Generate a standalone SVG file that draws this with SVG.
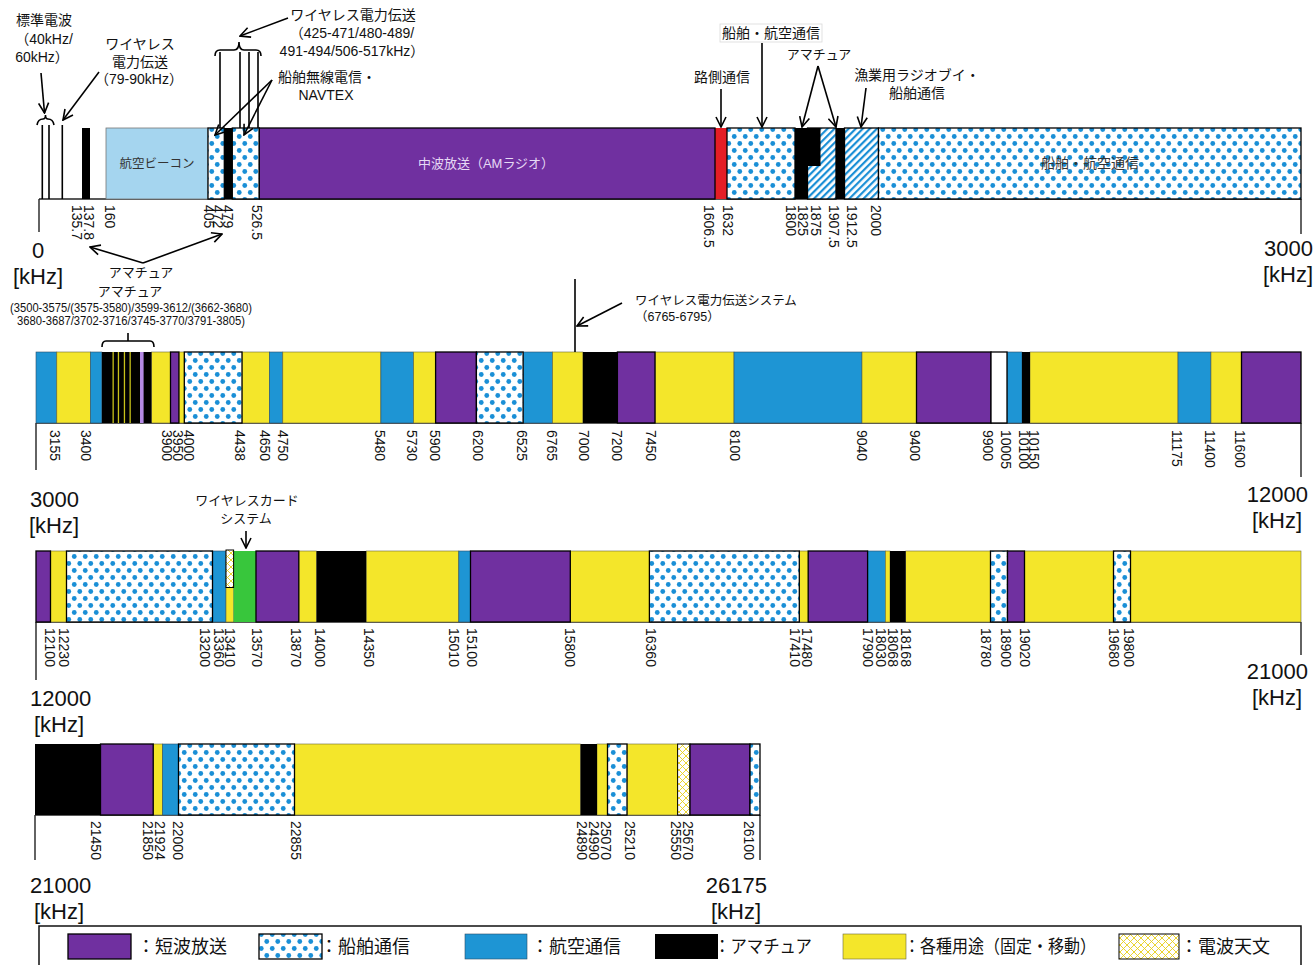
<svg xmlns="http://www.w3.org/2000/svg" width="1315" height="965" viewBox="0 0 1315 965">
<defs>
<style>
.Y{fill:#f4e62a;stroke:#6b6a3a;stroke-width:.6}
.B{fill:#1e95d4;stroke:#2b4d66;stroke-width:.6}
.G{fill:#38c63c}
.R{fill:#e41e26}
.P{fill:#7030a0;stroke:#000;stroke-width:1.3}
.D{fill:url(#dots);stroke:#000;stroke-width:1.3}
.K{fill:#000}
.W{fill:#fff;stroke:#000;stroke-width:1.3}
.X{fill:url(#xh);stroke:#000;stroke-width:1}
.H{fill:url(#hatch);stroke:#000;stroke-width:1.3}
.ax{stroke:#222;stroke-width:1.4;fill:none}
.ln{stroke:#000;stroke-width:1.6;fill:none}
.ar{stroke:#000;stroke-width:1.6;fill:none;marker-end:url(#ah)}
.lb{font-family:"Liberation Sans",Arial,sans-serif;font-size:14px;fill:#111}
.jp{font-family:"Liberation Sans","Noto Sans CJK JP",sans-serif;font-size:14px;fill:#111}
.big{font-family:"Liberation Sans",Arial,sans-serif;font-size:22px;fill:#111}
.lg{font-family:"Liberation Sans","Noto Sans CJK JP",sans-serif;font-size:18px;fill:#111}
</style>
<pattern id="dots" patternUnits="userSpaceOnUse" width="11" height="14"><rect width="11" height="14" fill="#fff"/><circle cx="2.75" cy="3.5" r="2.4" fill="#1a8fd6"/><circle cx="8.25" cy="10.5" r="2.4" fill="#1a8fd6"/></pattern>
<pattern id="hatch" patternUnits="userSpaceOnUse" width="5" height="5" patternTransform="rotate(45)"><rect width="5" height="5" fill="#fff"/><rect width="2.2" height="5" fill="#1a8fd6"/></pattern>
<pattern id="xh" patternUnits="userSpaceOnUse" width="7" height="7"><rect width="7" height="7" fill="#fff"/><path d="M0,0L7,7M7,0L0,7" stroke="#e8cf1a" stroke-width=".9"/></pattern>
<marker id="ah" viewBox="0 0 12 12" refX="11" refY="6" markerWidth="12" markerHeight="12" orient="auto" markerUnits="userSpaceOnUse"><path d="M1,1L11,6L1,11" fill="none" stroke="#000" stroke-width="1.6"/></marker>
</defs>
<rect width="1315" height="965" fill="#fff"/>

<!-- Row 1: 0 - 3000 kHz -->
<g id="row1">
<line class="ax" x1="39" y1="199" x2="1301" y2="199"/>
<line class="ax" x1="39" y1="199" x2="39" y2="232"/>
<line class="ax" x1="1301" y1="199" x2="1301" y2="234"/>
<line class="ln" x1="42.3" y1="125" x2="42.3" y2="199"/>
<line class="ln" x1="49" y1="125" x2="49" y2="199"/>
<line class="ln" x1="62.3" y1="125" x2="62.3" y2="199"/>
<rect class="K" x="82" y="128" width="8" height="71"/>
<rect x="106" y="128" width="102" height="71" fill="#a5d5ef" stroke="#777" stroke-width=".8"/>
<rect class="R" x="715" y="128" width="12" height="71"/>
<rect class="D" x="208" y="128" width="16.3" height="71"/>
<rect class="K" x="224.3" y="128" width="8" height="71"/>
<rect class="D" x="232.3" y="128" width="27" height="71"/>
<rect class="P" x="259.3" y="128" width="455.7" height="71"/>
<rect class="D" x="727" y="128" width="68" height="71"/>
<rect class="H" x="807.5" y="128" width="28.5" height="71"/>
<rect class="K" x="795" y="128" width="12.5" height="71"/>
<rect class="K" x="807.5" y="128" width="13" height="38"/>
<rect class="K" x="836" y="128" width="8.5" height="71"/>
<rect class="H" x="844.5" y="128" width="34" height="71"/>
<rect class="D" x="878.5" y="128" width="422.5" height="71"/>
<text class="jp" x="157" y="168" text-anchor="middle" style="font-size:12.5px;fill:#333">航空ビーコン</text>
<text class="jp" x="486" y="168" text-anchor="middle" style="font-size:13px;fill:#e6d9f5">中波放送（AMラジオ）</text>
<text class="jp" x="1090" y="168" text-anchor="middle" style="fill:#333">船舶・航空通信</text>
<g class="lb">
<text transform="translate(72,205) rotate(90)">135.7</text>
<text transform="translate(84,205) rotate(90)">137.8</text>
<text transform="translate(105,205) rotate(90)">160</text>
<text transform="translate(204,205) rotate(90)">405</text>
<text transform="translate(213,205) rotate(90)">472</text>
<text transform="translate(223,205) rotate(90)">479</text>
<text transform="translate(252,205) rotate(90)">526.5</text>
<text transform="translate(704,205) rotate(90)">1606.5</text>
<text transform="translate(723,205) rotate(90)">1632</text>
<text transform="translate(786,205) rotate(90)">1800</text>
<text transform="translate(798,205) rotate(90)">1825</text>
<text transform="translate(811,205) rotate(90)">1875</text>
<text transform="translate(829,205) rotate(90)">1907.5</text>
<text transform="translate(847,205) rotate(90)">1912.5</text>
<text transform="translate(871,205) rotate(90)">2000</text>
</g>
<text class="big" x="38" y="258" text-anchor="middle">0</text>
<text class="big" x="38" y="284" text-anchor="middle">[kHz]</text>
<text class="big" x="1313" y="256" text-anchor="end">3000</text>
<text class="big" x="1313" y="282" text-anchor="end">[kHz]</text>
</g>

<!-- Row 1 annotations -->
<g id="annotations1">
<text class="jp" x="44" y="25" text-anchor="middle">標準電波</text>
<text class="jp" x="44" y="44" text-anchor="middle">（40kHz/</text>
<text class="jp" x="42" y="62" text-anchor="middle">60kHz）</text>
<text class="jp" x="140" y="49" text-anchor="middle">ワイヤレス</text>
<text class="jp" x="140" y="67" text-anchor="middle">電力伝送</text>
<text class="jp" x="139" y="84" text-anchor="middle">（79-90kHz）</text>
<text class="jp" x="353" y="20" text-anchor="middle">ワイヤレス電力伝送</text>
<text class="jp" x="352" y="38" text-anchor="middle">（425-471/480-489/</text>
<text class="jp" x="352" y="56" text-anchor="middle">491-494/506-517kHz）</text>
<text class="jp" x="327" y="82" text-anchor="middle">船舶無線電信・</text>
<text class="jp" x="326" y="100" text-anchor="middle">NAVTEX</text>
<text class="jp" x="141" y="277" text-anchor="middle" style="font-size:13px">アマチュア</text>
<rect x="720" y="24" width="102" height="18" fill="none" stroke="#d9d9d9" stroke-width=".8"/>
<text class="jp" x="771" y="38" text-anchor="middle">船舶・航空通信</text>
<text class="jp" x="819" y="59" text-anchor="middle" style="font-size:13px">アマチュア</text>
<text class="jp" x="722" y="82" text-anchor="middle">路側通信</text>
<text class="jp" x="917" y="80" text-anchor="middle">漁業用ラジオブイ・</text>
<text class="jp" x="917" y="98" text-anchor="middle">船舶通信</text>
</g>

<!-- Row 2: 3000 - 12000 kHz -->
<g id="row2">
<line class="ax" x1="36" y1="423" x2="1301" y2="423"/>
<line class="ax" x1="36" y1="423" x2="36" y2="470"/>
<line class="ax" x1="1301" y1="423" x2="1301" y2="477"/>
<rect class="B" x="36" y="352" width="20.8" height="71"/>
<rect class="Y" x="56.8" y="352" width="33.7" height="71"/>
<rect class="B" x="90.5" y="352" width="11.4" height="71"/>
<rect class="Y" x="151.5" y="352" width="19" height="71"/>
<rect class="Y" x="178.9" y="352" width="5.4" height="71"/>
<rect class="Y" x="242" y="352" width="27.4" height="71"/>
<rect class="B" x="269.4" y="352" width="13.4" height="71"/>
<rect class="Y" x="282.8" y="352" width="98.1" height="71"/>
<rect class="B" x="380.9" y="352" width="32.8" height="71"/>
<rect class="Y" x="413.7" y="352" width="21.9" height="71"/>
<rect class="B" x="523.1" y="352" width="29.5" height="71"/>
<rect class="Y" x="552.6" y="352" width="30.3" height="71"/>
<rect class="Y" x="655" y="352" width="79" height="71"/>
<rect class="B" x="734" y="352" width="128" height="71"/>
<rect class="Y" x="862" y="352" width="54.5" height="71"/>
<rect class="B" x="1007" y="352" width="15" height="71"/>
<rect class="Y" x="1030" y="352" width="148" height="71"/>
<rect class="B" x="1178" y="352" width="33" height="71"/>
<rect class="Y" x="1211" y="352" width="30.5" height="71"/>
<rect class="K" x="101.9" y="352" width="49.6" height="71"/>
<rect x="112.5" y="352" width="1.3" height="71" fill="#c8c21a"/>
<rect x="117.8" y="352" width="1.3" height="71" fill="#c8c21a"/>
<rect x="123.8" y="352" width="1.3" height="71" fill="#c8c21a"/>
<rect x="129.5" y="352" width="1.3" height="71" fill="#c8c21a"/>
<rect x="140" y="352" width="3.6" height="71" fill="#b58ae6"/>
<rect class="P" x="170.5" y="352" width="8.4" height="71"/>
<rect class="D" x="184.3" y="352" width="57.7" height="71"/>
<rect class="P" x="435.6" y="352" width="40.8" height="71"/>
<rect class="D" x="476.4" y="352" width="46.7" height="71"/>
<rect class="K" x="582.9" y="352" width="34.5" height="71"/>
<rect class="P" x="617.4" y="352" width="37.6" height="71"/>
<rect class="P" x="916.5" y="352" width="74.5" height="71"/>
<rect class="W" x="991" y="352" width="16" height="71"/>
<rect class="K" x="1022" y="352" width="8" height="71"/>
<rect class="P" x="1241.5" y="352" width="59.5" height="71"/>
<g class="lb">
<text transform="translate(50,430) rotate(90)">3155</text>
<text transform="translate(81,430) rotate(90)">3400</text>
<text transform="translate(162,430) rotate(90)">3900</text>
<text transform="translate(173,430) rotate(90)">3950</text>
<text transform="translate(184,430) rotate(90)">4000</text>
<text transform="translate(235,430) rotate(90)">4438</text>
<text transform="translate(260,430) rotate(90)">4650</text>
<text transform="translate(278,430) rotate(90)">4750</text>
<text transform="translate(375,430) rotate(90)">5480</text>
<text transform="translate(407,430) rotate(90)">5730</text>
<text transform="translate(430,430) rotate(90)">5900</text>
<text transform="translate(473,430) rotate(90)">6200</text>
<text transform="translate(517,430) rotate(90)">6525</text>
<text transform="translate(547,430) rotate(90)">6765</text>
<text transform="translate(579,430) rotate(90)">7000</text>
<text transform="translate(612,430) rotate(90)">7200</text>
<text transform="translate(646,430) rotate(90)">7450</text>
<text transform="translate(730,430) rotate(90)">8100</text>
<text transform="translate(857,430) rotate(90)">9040</text>
<text transform="translate(910,430) rotate(90)">9400</text>
<text transform="translate(983,430) rotate(90)">9900</text>
<text transform="translate(1001,430) rotate(90)">10005</text>
<text transform="translate(1019,430) rotate(90)">10100</text>
<text transform="translate(1029,430) rotate(90)">10150</text>
<text transform="translate(1172,430) rotate(90)">11175</text>
<text transform="translate(1205,430) rotate(90)">11400</text>
<text transform="translate(1235,430) rotate(90)">11600</text>
</g>
<text class="big" x="30" y="507">3000</text>
<text class="big" x="29" y="533">[kHz]</text>
<text class="big" x="1308" y="502" text-anchor="end">12000</text>
<text class="big" x="1302" y="528" text-anchor="end">[kHz]</text>
</g>

<!-- Row 2 annotations -->
<g id="annotations2">
<text class="jp" x="130" y="296" text-anchor="middle" style="font-size:13px">アマチュア</text>
<text class="lb" x="131" y="312" text-anchor="middle" style="font-size:12px" textLength="242" lengthAdjust="spacingAndGlyphs">(3500-3575/(3575-3580)/3599-3612/(3662-3680)</text>
<text class="lb" x="131" y="325" text-anchor="middle" style="font-size:12px" textLength="228" lengthAdjust="spacingAndGlyphs">3680-3687/3702-3716/3745-3770/3791-3805)</text>
<text class="jp" x="635" y="305" style="font-size:12.5px">ワイヤレス電力伝送システム</text>
<text class="jp" x="635" y="321" style="font-size:12.5px">（6765-6795）</text>
</g>

<!-- Row 3: 12000 - 21000 kHz -->
<g id="row3">
<line class="ax" x1="36" y1="622" x2="1301" y2="622"/>
<line class="ax" x1="36" y1="622" x2="36" y2="680"/>
<line class="ax" x1="1301" y1="622" x2="1301" y2="655"/>
<rect class="Y" x="50.5" y="551" width="16" height="71"/>
<rect class="B" x="212.5" y="551" width="13.5" height="71"/>
<rect class="Y" x="226" y="551" width="7.6" height="71"/>
<rect class="G" x="233.6" y="551" width="22.4" height="71"/>
<rect class="Y" x="298.8" y="551" width="17.7" height="71"/>
<rect class="Y" x="366.2" y="551" width="92.6" height="71"/>
<rect class="B" x="458.8" y="551" width="11.7" height="71"/>
<rect class="Y" x="570.3" y="551" width="79.1" height="71"/>
<rect class="Y" x="799.3" y="551" width="8.9" height="71"/>
<rect class="B" x="867.6" y="551" width="17.8" height="71"/>
<rect class="Y" x="885.4" y="551" width="4.6" height="71"/>
<rect class="Y" x="905.7" y="551" width="84.8" height="71"/>
<rect class="Y" x="1024.5" y="551" width="89" height="71"/>
<rect class="Y" x="1130.5" y="551" width="170.5" height="71"/>
<rect class="P" x="36" y="551" width="14.5" height="71"/>
<rect class="D" x="66.5" y="551" width="146" height="71"/>
<rect class="X" x="226" y="550" width="7.6" height="37.5"/>
<rect class="P" x="256" y="551" width="42.8" height="71"/>
<rect class="K" x="316.5" y="551" width="49.7" height="71"/>
<rect class="P" x="470.5" y="551" width="99.8" height="71"/>
<rect class="D" x="649.4" y="551" width="149.9" height="71"/>
<rect class="P" x="808.2" y="551" width="59.4" height="71"/>
<rect class="K" x="890" y="551" width="15.7" height="71"/>
<rect class="D" x="990.5" y="551" width="17" height="71"/>
<rect class="P" x="1007.5" y="551" width="17" height="71"/>
<rect class="D" x="1113.5" y="551" width="17" height="71"/>
<g class="lb">
<text transform="translate(45,628) rotate(90)">12100</text>
<text transform="translate(59,628) rotate(90)">12230</text>
<text transform="translate(200,628) rotate(90)">13200</text>
<text transform="translate(214,628) rotate(90)">13360</text>
<text transform="translate(225,628) rotate(90)">13410</text>
<text transform="translate(252,628) rotate(90)">13570</text>
<text transform="translate(291,628) rotate(90)">13870</text>
<text transform="translate(315,628) rotate(90)">14000</text>
<text transform="translate(364,628) rotate(90)">14350</text>
<text transform="translate(449,628) rotate(90)">15010</text>
<text transform="translate(467,628) rotate(90)">15100</text>
<text transform="translate(565,628) rotate(90)">15800</text>
<text transform="translate(646,628) rotate(90)">16360</text>
<text transform="translate(790,628) rotate(90)">17410</text>
<text transform="translate(802,628) rotate(90)">17480</text>
<text transform="translate(863,628) rotate(90)">17900</text>
<text transform="translate(876,628) rotate(90)">18030</text>
<text transform="translate(888,628) rotate(90)">18068</text>
<text transform="translate(901,628) rotate(90)">18168</text>
<text transform="translate(981,628) rotate(90)">18780</text>
<text transform="translate(1001,628) rotate(90)">18900</text>
<text transform="translate(1020,628) rotate(90)">19020</text>
<text transform="translate(1109,628) rotate(90)">19680</text>
<text transform="translate(1124,628) rotate(90)">19800</text>
</g>
<text class="big" x="30" y="706">12000</text>
<text class="big" x="34" y="732">[kHz]</text>
<text class="big" x="1308" y="679" text-anchor="end">21000</text>
<text class="big" x="1302" y="705" text-anchor="end">[kHz]</text>
</g>

<g id="annotations3">
<text class="jp" x="247" y="505" text-anchor="middle" style="font-size:13px">ワイヤレスカード</text>
<text class="jp" x="246" y="523" text-anchor="middle" style="font-size:13px">システム</text>
</g>

<!-- Row 4: 21000 - 26175 kHz -->
<g id="row4">
<line class="ax" x1="35" y1="815" x2="760" y2="815"/>
<line class="ax" x1="35" y1="815" x2="35" y2="860"/>
<line class="ax" x1="760" y1="815" x2="760" y2="860"/>
<rect class="Y" x="153.2" y="744" width="9.5" height="71"/>
<rect class="B" x="162.7" y="744" width="15.8" height="71"/>
<rect class="Y" x="294.5" y="744" width="286" height="71"/>
<rect class="Y" x="597" y="744" width="10.5" height="71"/>
<rect class="Y" x="627" y="744" width="50.6" height="71"/>
<rect class="K" x="35" y="744" width="65.5" height="71"/>
<rect class="P" x="100.5" y="744" width="52.7" height="71"/>
<rect class="D" x="178.5" y="744" width="116" height="71"/>
<rect class="K" x="580.5" y="744" width="16.5" height="71"/>
<rect class="D" x="607.5" y="744" width="19.5" height="71"/>
<rect class="X" x="677.6" y="744" width="12.4" height="71"/>
<rect class="P" x="690" y="744" width="60" height="71"/>
<rect class="D" x="750" y="744" width="10" height="71"/>
<g class="lb">
<text transform="translate(91,821) rotate(90)">21450</text>
<text transform="translate(143,821) rotate(90)">21850</text>
<text transform="translate(155,821) rotate(90)">21924</text>
<text transform="translate(173,821) rotate(90)">22000</text>
<text transform="translate(291,821) rotate(90)">22855</text>
<text transform="translate(577,821) rotate(90)">24890</text>
<text transform="translate(589,821) rotate(90)">24990</text>
<text transform="translate(601,821) rotate(90)">25070</text>
<text transform="translate(625,821) rotate(90)">25210</text>
<text transform="translate(671,821) rotate(90)">25550</text>
<text transform="translate(683,821) rotate(90)">25670</text>
<text transform="translate(744,821) rotate(90)">26100</text>
</g>
<text class="big" x="30" y="893">21000</text>
<text class="big" x="34" y="919">[kHz]</text>
<text class="big" x="767" y="893" text-anchor="end">26175</text>
<text class="big" x="761" y="919" text-anchor="end">[kHz]</text>
</g>

<!-- Connectors -->
<g id="connectors">
<path class="ln" d="M37,125 Q38,119 43,119 Q45.5,119 45.5,115 Q45.5,119 48,119 Q53,119 54,125"/>
<path class="ar" d="M41,73 L44.5,113"/>
<path class="ar" d="M99,72 L63,120"/>
<path class="ln" d="M215,56 Q215,50 220,50 L234,50 Q239,50 239,42 Q239,50 244,50 L256,50 Q261,50 261,56"/>
<path class="ln" d="M220,52 V128 M240,52 V128 M249,52 V128 M258,52 V128"/>
<path class="ar" d="M288,18 L240,36"/>
<path class="ar" d="M272,80 L215,135"/>
<path class="ar" d="M272,80 L244,135"/>
<path class="ar" d="M143,263 L90,247"/>
<path class="ar" d="M143,263 L222,234"/>
<path class="ar" d="M721,89 L721,127"/>
<path class="ar" d="M762,43 L762,127"/>
<path class="ar" d="M818,66 L802,127"/>
<path class="ar" d="M818,66 L836,127"/>
<path class="ar" d="M866,88 L861,127"/>
<path class="ln" d="M102,347 Q102,341 106,341 L150,341 Q154,341 154,347 M128,341 V333"/>
<path class="ln" d="M575,279 V352"/>
<path class="ar" d="M622,303 L577,326"/>
<path class="ar" d="M246,531 L246,548"/>
</g>

<!-- Legend -->
<g id="legend">
<rect x="39" y="926" width="1262" height="50" fill="none" stroke="#111" stroke-width="1.5"/>
<rect class="P" x="68" y="934" width="63" height="25"/>
<text class="lg" x="137" y="953">：短波放送</text>
<rect class="D" x="259" y="934" width="63" height="25"/>
<text class="lg" x="320" y="953">：船舶通信</text>
<rect class="B" x="465" y="934" width="62" height="25"/>
<text class="lg" x="531" y="953">：航空通信</text>
<rect class="K" x="655" y="934" width="63" height="25"/>
<text class="lg" x="714" y="953" textLength="98" lengthAdjust="spacingAndGlyphs">：アマチュア</text>
<rect class="Y" x="843" y="934" width="63" height="25"/>
<text class="lg" x="904" y="953" textLength="192" lengthAdjust="spacingAndGlyphs">：各種用途（固定・移動）</text>
<rect class="X" x="1119" y="934" width="60" height="25"/>
<text class="lg" x="1180" y="953">：電波天文</text>
</g>
</svg>
